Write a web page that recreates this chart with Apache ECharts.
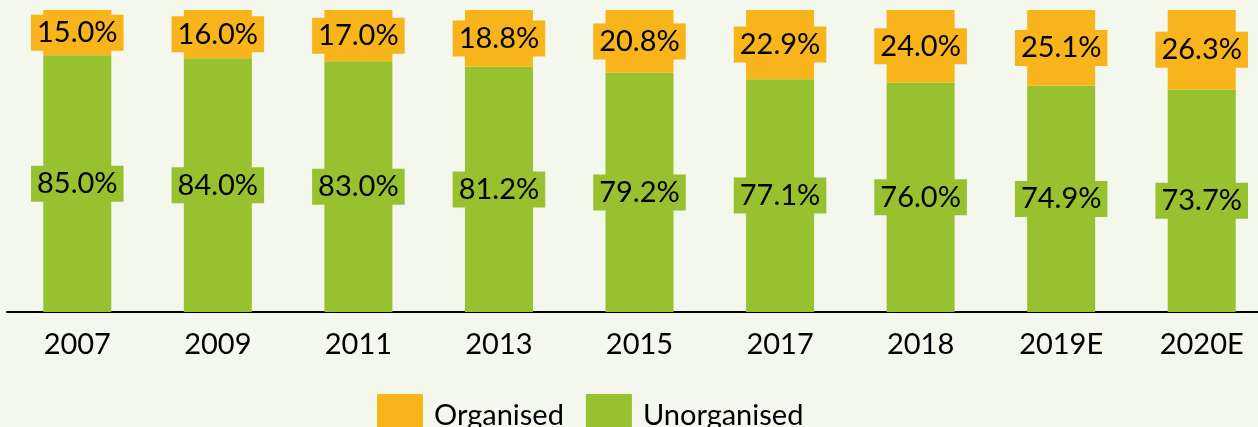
<!DOCTYPE html>
<html>
<head>
<meta charset="utf-8">
<script src="https://cdn.jsdelivr.net/npm/echarts@6/dist/echarts.min.js"></script>
<style>
  html, body { margin: 0; padding: 0; background: #F4F7EB; }
  #chart { width: 1258px; height: 427px; }
</style>
</head>
<body>
<div id="chart"></div>
<script>
// Market share split, organised vs unorganised (%)
const years = ['2007', '2009', '2011', '2013', '2015', '2017', '2018', '2019E', '2020E'];
const organised = [15.0, 16.0, 17.0, 18.8, 20.8, 22.9, 24.0, 25.1, 26.3];
const unorganised = [85.0, 84.0, 83.0, 81.2, 79.2, 77.1, 76.0, 74.9, 73.7];

const ORANGE = '#F8B41B';
const GREEN = '#97C12E';
const FONT = 'Lato, "Open Sans", sans-serif';

function segLabel(color) {
  return {
    show: true,
    position: 'inside',
    formatter: p => p.value.toFixed(1) + '%',
    fontFamily: FONT,
    fontSize: 29,
    color: '#000',
    backgroundColor: color,
    padding: [4, 6, 3, 6]
  };
}

const chart = echarts.init(document.getElementById('chart'));
chart.setOption({
  backgroundColor: '#F4F7EB',
  animation: false,
  grid: { left: 7, width: 1265, top: 10, bottom: 115, outerBoundsMode: 'none' },
  legend: {
    data: ['Organised', 'Unorganised'],
    left: 372,
    top: 389,
    itemWidth: 46,
    itemHeight: 44,
    itemGap: 22,
    icon: 'rect',
    textStyle: { fontFamily: FONT, fontSize: 29, lineHeight: 44, color: '#000', padding: [0, 0, 0, 6] }
  },
  xAxis: {
    type: 'category',
    data: years,
    axisLine: { lineStyle: { color: '#000', width: 2 } },
    axisTick: { show: false },
    axisLabel: { fontFamily: FONT, fontSize: 29, color: '#000', margin: 18 }
  },
  yAxis: {
    type: 'value',
    min: 0,
    max: 100,
    show: false,
    splitLine: { show: false }
  },
  series: [
    {
      name: 'Unorganised',
      type: 'bar',
      stack: 'share',
      data: unorganised,
      barWidth: 68,
      itemStyle: { color: GREEN },
      label: segLabel(GREEN)
    },
    {
      name: 'Organised',
      type: 'bar',
      stack: 'share',
      data: organised,
      barWidth: 68,
      itemStyle: { color: ORANGE },
      label: segLabel(ORANGE)
    }
  ]
});
</script>
</body>
</html>
